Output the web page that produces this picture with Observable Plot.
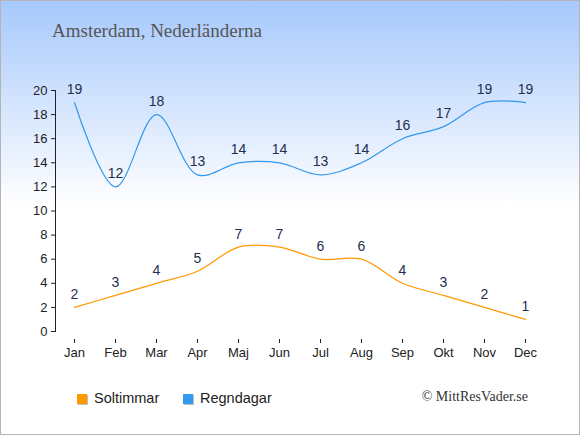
<!DOCTYPE html>
<html>
<head>
<meta charset="utf-8">
<script src="https://cdn.jsdelivr.net/npm/d3@7"></script>
<script src="https://cdn.jsdelivr.net/npm/@observablehq/plot@0.6"></script>
<style>
  html, body { margin: 0; padding: 0; background: #fff; }
  #wrap { position: relative; width: 580px; height: 435px; overflow: hidden;
          background: linear-gradient(to bottom, #a6c8fc 0px, #ffffff 205px, #ffffff 435px); }
  #chart { position: absolute; left: 0; top: 0; }
  #title { position: absolute; left: 52px; top: 20px; font-family: "Liberation Serif", serif;
           font-size: 19px; color: #555; white-space: nowrap; }
  .leg { position: absolute; top: 390px; font-family: "Liberation Sans", Arial, sans-serif;
         font-size: 14.5px; color: #222; line-height: 17px; white-space: nowrap; }
  .sw { position: absolute; width: 10px; height: 10px; top: 394px; box-shadow: 1px 1px 0 #c0c0c0; }
  #copy { position: absolute; right: 52px; top: 389px; font-family: "Liberation Serif", serif;
          font-size: 14px; color: #333; white-space: nowrap; }
  #border { position: absolute; left: 0; top: 0; width: 578px; height: 433px; border: 1px solid #b4b4b4; pointer-events: none; }
</style>
</head>
<body>
<div id="wrap">
  <div id="chart"></div>
  <div id="title"></div>
  <div id="legend"></div>
  <div id="copy"></div>
  <div id="border"></div>
</div>
<script>
const months = ["Jan","Feb","Mar","Apr","Maj","Jun","Jul","Aug","Sep","Okt","Nov","Dec"];
const soltimmar = [2,3,4,5,7,7,6,6,4,3,2,1];
const regndagar = [19,12,18,13,14,14,13,14,16,17,19,19];
const yTicks = [0,2,4,6,8,10,12,14,16,18,20];
const seriesNames = ["Soltimmar","Regndagar"];
const seriesColors = ["#ff9900","#3399ee"];
const titleText = "Amsterdam, Nederländerna";
const copyText = "© MittResVader.se";

const sun = months.map((m,i) => ({month: m, value: soltimmar[i]}));
const rain = months.map((m,i) => ({month: m, value: regndagar[i]}));

const chart = Plot.plot({
  width: 580,
  height: 435,
  marginLeft: 55,
  marginRight: 55,
  marginTop: 90,
  marginBottom: 104,
  style: {background: "transparent", fontFamily: "'Liberation Sans', Arial, sans-serif", color: "#222"},
  x: {type: "point", domain: months, padding: 0, insetLeft: 19},
  y: {domain: [0, 20]},
  marks: [
    Plot.frame({anchor: "left", stroke: "#222"}),
    Plot.axisY({ticks: yTicks, tickSize: 4, tickPadding: 4, fontSize: 13, label: null, stroke: "#222", fill: "#222"}),
    Plot.ruleY([0], {x1: months[0], x2: months[months.length-1], dy: 10, stroke: "#222"}),
    Plot.axisX({tickSize: 4, tickPadding: 4, dy: 8, fontSize: 13, label: null, stroke: "#222", fill: "#222"}),
    Plot.line(sun, {x: "month", y: "value", curve: "catmull-rom", stroke: seriesColors[0], strokeWidth: 1.2}),
    Plot.line(rain, {x: "month", y: "value", curve: "catmull-rom", stroke: seriesColors[1], strokeWidth: 1.2}),
    Plot.text(sun, {x: "month", y: "value", text: "value", dy: -13, fontSize: 14, fill: "#1f2f4f"}),
    Plot.text(rain, {x: "month", y: "value", text: "value", dy: -13, fontSize: 14, fill: "#1f2f4f"})
  ]
});
document.getElementById("chart").appendChild(chart);
document.getElementById("title").textContent = titleText;
document.getElementById("copy").textContent = copyText;

const leg = document.getElementById("legend");
const swX = [77, 183];
seriesNames.forEach((name, i) => {
  const sw = document.createElement("div");
  sw.className = "sw";
  sw.style.left = swX[i] + "px";
  sw.style.background = seriesColors[i];
  leg.appendChild(sw);
  const t = document.createElement("div");
  t.className = "leg";
  t.style.left = (swX[i] + 17) + "px";
  t.textContent = name;
  leg.appendChild(t);
});
</script>
</body>
</html>
